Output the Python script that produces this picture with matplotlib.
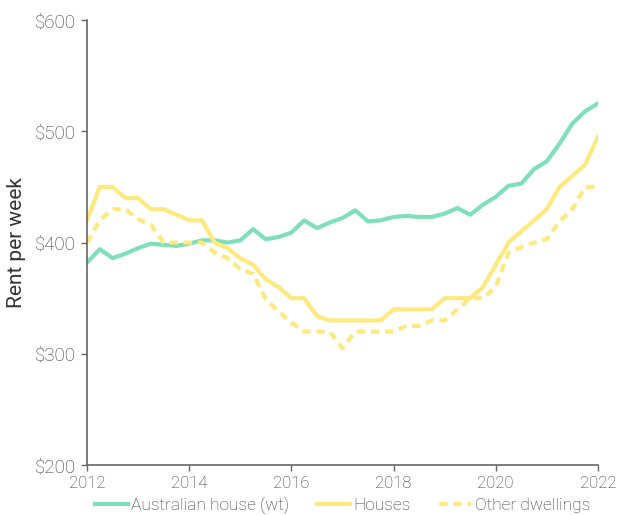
import numpy as np
import matplotlib
matplotlib.use("Agg")
import matplotlib.pyplot as plt
import matplotlib.ticker as ticker

plt.rcParams['font.family'] = ['Roboto', 'DejaVu Sans']
plt.rcParams['font.weight'] = 'light'

# Квартальные данные 2012-2022
years = [2012 + q / 4 for q in range(41)]

australia = [382, 394, 386, 390, 395, 399, 398, 397, 399, 402,
             402, 400, 402, 412, 403, 405, 409, 420, 413, 418,
             422, 429, 419, 420, 423, 424, 423, 423, 426, 431,
             425, 434, 441, 451, 453, 466, 473, 489, 507, 518, 525]

houses = [420, 450, 450, 440, 440, 430, 430, 425, 420, 420,
          400, 395, 386, 380, 367, 360, 350, 350, 334, 330,
          330, 330, 330, 330, 340, 340, 340, 340, 350, 350,
          350, 360, 380, 400, 410, 420, 430, 450, 460, 470, 495]

other = [400, 420, 430, 430, 421, 416, 400, 400, 400, 400,
         391, 386, 376, 372, 349, 338, 328, 320, 320, 320,
         305, 320, 320, 320, 320, 325, 325, 330, 330, 340,
         350, 350, 360, 391, 396, 400, 403, 419, 430, 450, 450]

green = '#80dfbb'
yellow = '#fde97e'
grey = '#666666'
text_col = '#333333'

fig = plt.figure(figsize=(6.17, 5.15), dpi=100)
ax = fig.add_axes([0.141, 0.097, 0.828, 0.864])

ax.plot(years, australia, color=green, lw=3, label='Australian house (wt)')
ax.plot(years, houses, color=yellow, lw=3, label='Houses')
ax.plot(years, other, color=yellow, lw=3, ls=(0, (2.0, 1.4)), label='Other dwellings')

ax.set_xlim(2012, 2022)
ax.set_ylim(200, 600)
ax.xaxis.set_major_locator(ticker.MultipleLocator(2))
ax.yaxis.set_major_locator(ticker.MultipleLocator(100))
ax.yaxis.set_major_formatter(ticker.FuncFormatter(lambda v, _: f"${v:.0f}"))

for s in ['top', 'right']:
    ax.spines[s].set_visible(False)
for s in ['left', 'bottom']:
    ax.spines[s].set_color(grey)
    ax.spines[s].set_linewidth(1.2)

ax.tick_params(color=grey, labelcolor=text_col, length=4, width=1, pad=4)
ax.tick_params(axis='y', labelsize=13.5)
ax.tick_params(axis='x', labelsize=12)
ax.set_ylabel('Rent per week', fontsize=15, color=text_col, labelpad=6)

ax.legend(loc='center', bbox_to_anchor=(0.5, -0.09), ncol=3, frameon=False,
          fontsize=12.5, labelcolor=text_col, handlelength=1.9, handletextpad=0.2,
          columnspacing=1.6)

fig.savefig('out.png', dpi=100)
